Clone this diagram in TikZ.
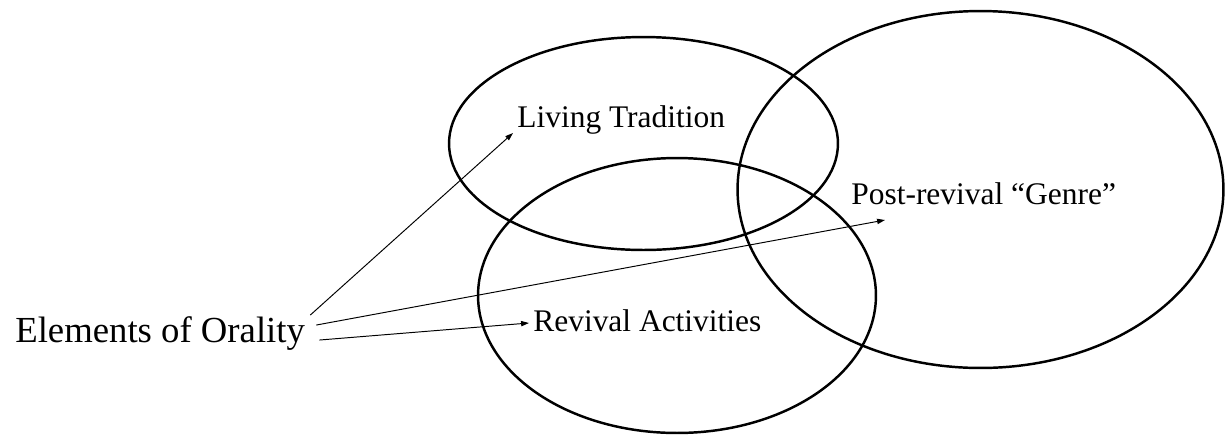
\documentclass[tikz,border=0pt]{standalone}
\usepackage{fontspec}
\setmainfont{Liberation Serif}
\usetikzlibrary{arrows.meta,calc}

\begin{document}
\begin{tikzpicture}[x=0.02cm,y=-0.02cm,
  circ/.style={line width=1.4pt},
  lbl/.style={inner sep=0pt,anchor=base west,font=\fontsize{17.9}{21}\selectfont},
  pointer/.style={line width=0.55pt,-{Triangle[length=4.5pt,width=3pt]}}]
\useasboundingbox (0,0) rectangle (1225,434);
\draw[circ] (643.5,143.5) ellipse [x radius=3.89cm,y radius=2.13cm];
\draw[circ] (677,295.5) ellipse [x radius=3.98cm,y radius=2.75cm];
\draw[circ] (980.5,189.5) ellipse [x radius=4.86cm,y radius=3.57cm];
\node[lbl] (living) at (517,127) {Living Tradition};
\node[lbl] (revival) at (533,331) {Revival Activities};
\node[lbl] (genre) at (851,204) {Post-revival “Genre”};
\node[inner sep=0pt,anchor=base west,font=\fontsize{20.9}{25}\selectfont] (orality) at (15,342) {Elements of Orality};
\draw[pointer] ($(orality.east)+(5,-18)$) -- ($(living.base west)+(-4,6)$);
\draw[pointer] ($(orality.east)+(11,-8)$) -- ($(genre.base west)+(34,16)$);
\draw[pointer] ($(orality.east)+(14,7)$) -- ($(revival.base west)+(-4,-8)$);
\end{tikzpicture}
\end{document}
